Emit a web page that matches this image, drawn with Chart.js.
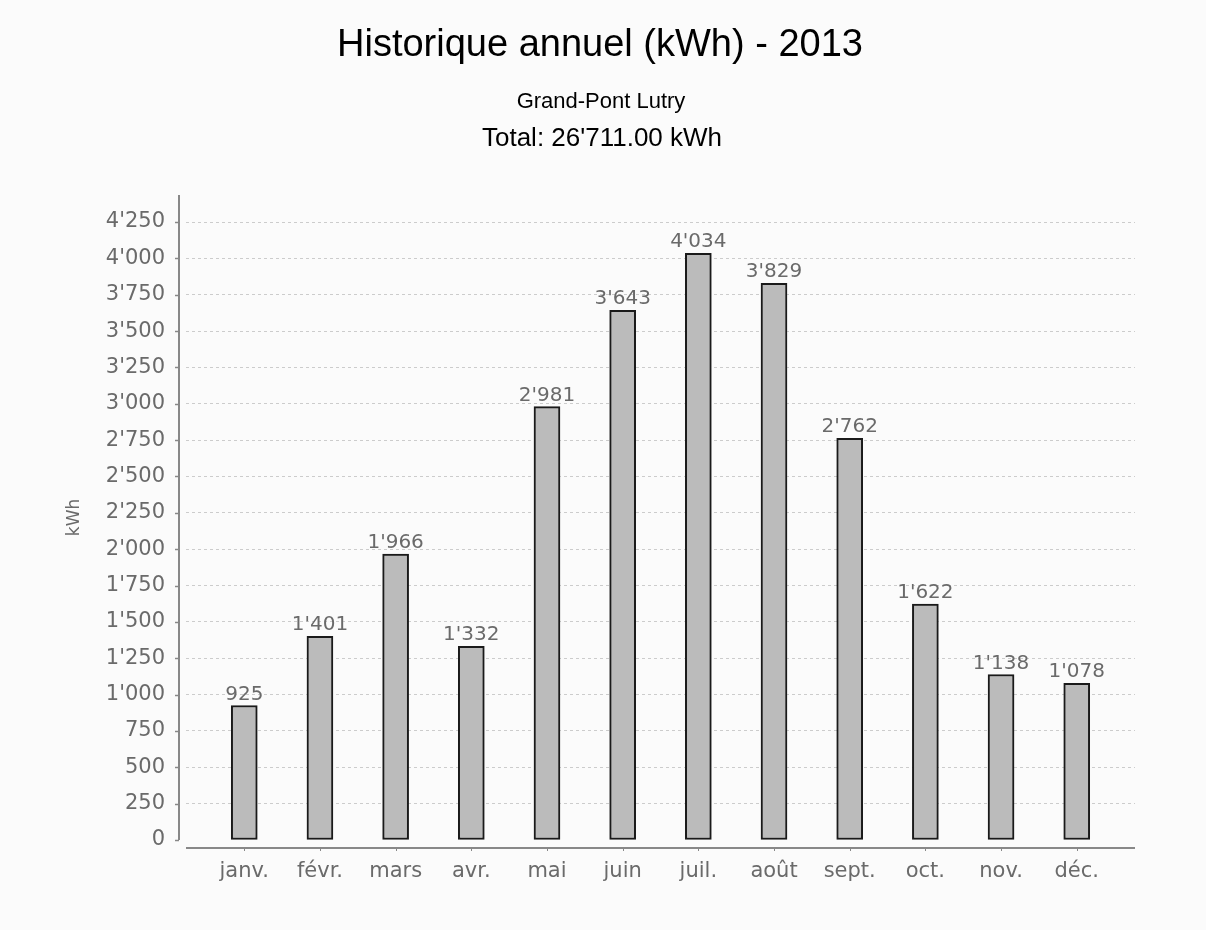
<!DOCTYPE html>
<html>
<head>
<meta charset="utf-8">
<script src="https://cdn.jsdelivr.net/npm/chart.js@4.4.1/dist/chart.umd.min.js"></script>
<style>
  html, body { margin: 0; padding: 0; background: #fbfbfb; }
  #wrap { width: 1206px; height: 930px; }
</style>
</head>
<body>
<div id="wrap"><canvas id="histo_Chart" width="1206" height="930"></canvas></div>
<script>
// donnees
const mois = ['janv.', 'févr.', 'mars', 'avr.', 'mai', 'juin', 'juil.', 'août', 'sept.', 'oct.', 'nov.', 'déc.'];
const kwh = [925, 1401, 1966, 1332, 2981, 3643, 4034, 3829, 2762, 1622, 1138, 1078];
const yTicks = [0, 250, 500, 750, 1000, 1250, 1500, 1750, 2000, 2250, 2500, 2750, 3000, 3250, 3500, 3750, 4000, 4250];

const titre = 'Historique annuel (kWh) - 2013';
const sousTitre = 'Grand-Pont Lutry';
const total = "Total: 26'711.00 kWh";

function fmt(v) {
  return String(v).replace(/\B(?=(\d{3})+(?!\d))/g, "'");
}

const grisTexte = '#6a6a6a';

// fond + titres
const fondPlugin = {
  id: 'fond',
  beforeDraw(chart) {
    const ctx = chart.ctx;
    ctx.save();
    ctx.fillStyle = '#fbfbfb';
    ctx.fillRect(0, 0, chart.width, chart.height);
    ctx.restore();
  },
  afterDraw(chart) {
    const ctx = chart.ctx;
    const cx = 600;
    ctx.save();
    ctx.fillStyle = '#000';
    ctx.textAlign = 'center';
    ctx.textBaseline = 'alphabetic';
    ctx.font = '38px "Liberation Sans", Arial, sans-serif';
    ctx.fillText(titre, cx, 56);
    ctx.font = '22px "Liberation Sans", Arial, sans-serif';
    ctx.fillText(sousTitre, cx + 1, 108);
    ctx.font = '26px "Liberation Sans", Arial, sans-serif';
    ctx.fillText(total, cx + 2, 146);
    ctx.restore();
  }
};

// axes decales comme dans l'original
const axesPlugin = {
  id: 'axes',
  afterDatasetsDraw(chart) {
    const ctx = chart.ctx;
    const a = chart.chartArea;
    const y = chart.scales.y;
    const x = chart.scales.x;
    ctx.save();
    ctx.strokeStyle = '#888';
    ctx.lineWidth = 2;
    ctx.beginPath();
    ctx.moveTo(a.left - 7, a.top);
    ctx.lineTo(a.left - 7, y.getPixelForValue(0));
    ctx.stroke();
    ctx.lineWidth = 1.5;
    yTicks.forEach(t => {
      const py = Math.round(y.getPixelForValue(t)) + 0.5;
      ctx.beginPath();
      ctx.moveTo(a.left - 11, py);
      ctx.lineTo(a.left - 7, py);
      ctx.stroke();
    });
    ctx.lineWidth = 2;
    ctx.beginPath();
    ctx.moveTo(a.left, a.bottom + 8);
    ctx.lineTo(a.right, a.bottom + 8);
    ctx.stroke();
    ctx.lineWidth = 1;
    mois.forEach((m, i) => {
      const px = Math.round(x.getPixelForValue(i)) + 0.5;
      ctx.beginPath();
      ctx.moveTo(px, a.bottom + 9);
      ctx.lineTo(px, a.bottom + 11);
      ctx.stroke();
    });
    ctx.restore();
  }
};

// valeurs au dessus des barres
const etiquettesPlugin = {
  id: 'etiquettes',
  afterDatasetsDraw(chart) {
    const ctx = chart.ctx;
    const meta = chart.getDatasetMeta(0);
    ctx.save();
    ctx.fillStyle = grisTexte;
    ctx.font = '20px "DejaVu Sans", sans-serif';
    ctx.textAlign = 'center';
    ctx.textBaseline = 'alphabetic';
    meta.data.forEach((bar, i) => {
      ctx.fillText(fmt(kwh[i]), bar.x, bar.y - 6);
    });
    ctx.restore();
  }
};

const ctx = document.getElementById('histo_Chart');

new Chart(ctx, {
  type: 'bar',
  data: {
    datasets: [{
      label: 'kWh',
      data: kwh.map((v, i) => ({ x: i, y: v })),
      backgroundColor: '#bbbbbb',
      borderColor: '#1a1a1a',
      borderWidth: 2,
      borderSkipped: false,
      barThickness: 26
    }]
  },
  options: {
    responsive: false,
    animation: false,
    devicePixelRatio: 1,
    layout: { padding: { top: 195, right: 71, left: 0, bottom: 0 } },
    plugins: {
      legend: { display: false },
      tooltip: { enabled: false }
    },
    scales: {
      x: {
        type: 'linear',
        offset: false,
        min: -0.77,
        max: 11.77,
        afterFit(scale) { scale.height = 90; },
        afterBuildTicks(scale) { scale.ticks = mois.map((m, i) => ({ value: i })); },
        grid: { display: false, drawTicks: false },
        border: { display: false },
        ticks: {
          padding: 19,
          autoSkip: false,
          maxRotation: 0,
          color: grisTexte,
          font: { family: '"DejaVu Sans", sans-serif', size: 21 },
          callback: (v) => mois[v]
        }
      },
      y: {
        min: 0,
        max: 4436,
        afterFit(scale) { scale.width = 186; },
        afterBuildTicks(scale) { scale.ticks = yTicks.map(v => ({ value: v })); },
        grid: {
          drawTicks: false,
          color: (c) => c.tick && c.tick.value === 0 ? 'rgba(0,0,0,0)' : '#cccccc',
          lineWidth: 1
        },
        border: { display: false, dash: [3, 3] },
        ticks: {
          padding: 21,
          color: grisTexte,
          font: { family: '"DejaVu Sans", sans-serif', size: 21 },
          callback: (v) => fmt(v)
        },
        title: {
          display: true,
          text: 'kWh',
          color: grisTexte,
          font: { family: '"DejaVu Sans", sans-serif', size: 17 },
          padding: { top: 64 }
        }
      }
    }
  },
  plugins: [fondPlugin, axesPlugin, etiquettesPlugin]
});
</script>
</body>
</html>
